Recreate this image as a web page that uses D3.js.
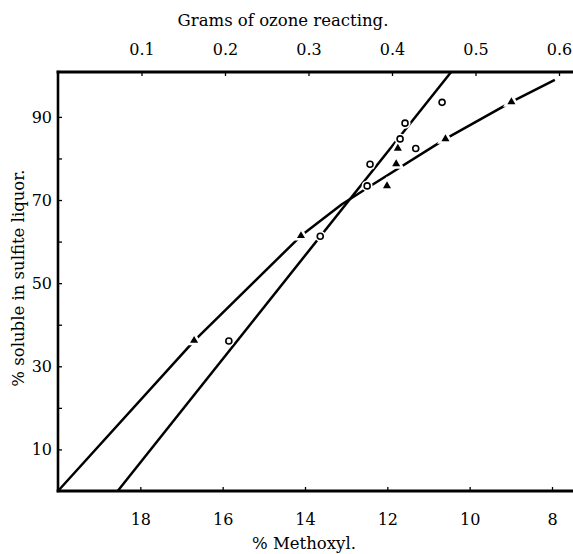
<!DOCTYPE html>
<html><head><meta charset="utf-8">
<script src="https://cdn.jsdelivr.net/npm/d3@7"></script>
<style>body{margin:0;background:#fff}</style>
</head><body>
<svg id="chart" width="573" height="554"></svg>
<script>
// ---- data ----
const methoxylTicks = [18, 16, 14, 12, 10, 8];
const ozoneTicks = [0.1, 0.2, 0.3, 0.4, 0.5, 0.6];
const solubleLabels = [10, 30, 50, 70, 90];
const solubleTicks = [10, 20, 30, 40, 50, 60, 70, 80, 90];

// circles: % methoxyl vs % soluble
const circleMethoxyl = [10.67, 11.57, 11.69, 11.31, 12.42, 12.49, 13.63, 15.85];
const circleSoluble  = [93.5, 88.5, 84.7, 82.4, 78.6, 73.4, 61.3, 36.1];
// triangles: grams of ozone vs % soluble
const triOzone   = [0.543, 0.464, 0.407, 0.405, 0.394, 0.291, 0.163];
const triSoluble = [93.6, 84.7, 82.4, 78.7, 73.4, 61.4, 36.2];

// drawn curves
const methoxylLineX = [18.55, 10.45];
const methoxylLineY = [0, 100.8];
const ozoneLineX = [0, 0.163, 0.291, 0.340, 0.376, 0.464, 0.543, 0.595];
const ozoneLineY = [0, 36.1, 61.4, 69.0, 73.6, 84.7, 93.6, 98.9];

// ---- layout ----
const svg = d3.select("#chart");
const pL = 58, pR = 573, pT = 72, pB = 491;
const font = "DejaVu Serif, serif";

const xM = d3.scaleLinear().domain([20, 8]).range([pL, 552]);
const xO = d3.scaleLinear().domain([0, 0.6]).range([pL, 559]);
const y = d3.scaleLinear().domain([0, 100.8]).range([pB, pT]);

// frame
const frame = svg.append("g").attr("stroke", "#000").attr("stroke-linecap", "square");
frame.append("line").attr("x1", pL).attr("x2", pR).attr("y1", pT).attr("y2", pT).attr("stroke-width", 2.8);
frame.append("line").attr("x1", pL).attr("x2", pR).attr("y1", pB).attr("y2", pB).attr("stroke-width", 2.8);
frame.append("line").attr("x1", pL).attr("x2", pL).attr("y1", pT).attr("y2", pB).attr("stroke-width", 2.6);

// axes
const axB = svg.append("g").attr("transform", `translate(0,${pB})`)
  .call(d3.axisBottom(xM).tickValues(methoxylTicks).tickSizeInner(-4).tickSizeOuter(0).tickPadding(23).tickFormat(d3.format("d")));
const axT = svg.append("g").attr("transform", `translate(0,${pT})`)
  .call(d3.axisTop(xO).tickValues(ozoneTicks).tickSizeInner(-4).tickSizeOuter(0).tickPadding(17).tickFormat(d3.format(".1f")));
const axL = svg.append("g").attr("transform", `translate(${pL},0)`)
  .call(d3.axisLeft(y).tickValues(solubleTicks).tickSizeInner(-4).tickSizeOuter(0).tickPadding(6)
    .tickFormat(d => solubleLabels.includes(d) ? d : ""));
[axB, axT, axL].forEach(g => {
  g.select(".domain").remove();
  g.selectAll(".tick line").attr("stroke", "#000").attr("stroke-width", 1.3);
  g.selectAll("text").attr("font-family", font).attr("font-size", 16).attr("fill", "#000");
});

// titles
svg.append("text").attr("x", 283).attr("y", 26).attr("text-anchor", "middle")
  .attr("font-family", font).attr("font-size", 16.5).text("Grams of ozone reacting.");
svg.append("text").attr("x", 304).attr("y", 549).attr("text-anchor", "middle")
  .attr("font-family", font).attr("font-size", 16.5).text("% Methoxyl.");
svg.append("text").attr("transform", "translate(24,278) rotate(-90)").attr("text-anchor", "middle")
  .attr("font-family", font).attr("font-size", 16.5).text("% soluble in sulfite liquor.");

// lines
const mLine = d3.line().x(d => xM(d[0])).y(d => y(d[1]));
const oLine = d3.line().x(d => xO(d[0])).y(d => y(d[1])).curve(d3.curveLinear);
svg.append("path").datum(methoxylLineX.map((v, i) => [v, methoxylLineY[i]]))
  .attr("d", mLine).attr("fill", "none").attr("stroke", "#000").attr("stroke-width", 2.5);
svg.append("path").datum(ozoneLineX.map((v, i) => [v, ozoneLineY[i]]))
  .attr("d", oLine).attr("fill", "none").attr("stroke", "#000").attr("stroke-width", 2.5)
  .attr("stroke-linejoin", "round");

// markers (white halo breaks the lines as in the original)
const circ = circleMethoxyl.map((v, i) => [v, circleSoluble[i]]);
const tri = triOzone.map((v, i) => [v, triSoluble[i]]);
const triSym = d3.symbol().type(d3.symbolTriangle).size(28);

svg.append("g").selectAll("circle").data(circ).join("circle")
  .attr("cx", d => xM(d[0])).attr("cy", d => y(d[1])).attr("r", 5.5).attr("fill", "#fff");
svg.append("g").selectAll("path").data(tri).join("path")
  .attr("transform", d => `translate(${xO(d[0])},${y(d[1])})`).attr("d", triSym)
  .attr("fill", "#fff").attr("stroke", "#fff").attr("stroke-width", 5);
svg.append("g").selectAll("circle").data(circ).join("circle")
  .attr("cx", d => xM(d[0])).attr("cy", d => y(d[1])).attr("r", 3)
  .attr("fill", "#fff").attr("stroke", "#000").attr("stroke-width", 1.6);
svg.append("g").selectAll("path").data(tri).join("path")
  .attr("transform", d => `translate(${xO(d[0])},${y(d[1])})`).attr("d", triSym)
  .attr("fill", "#000");
</script>
</body></html>
